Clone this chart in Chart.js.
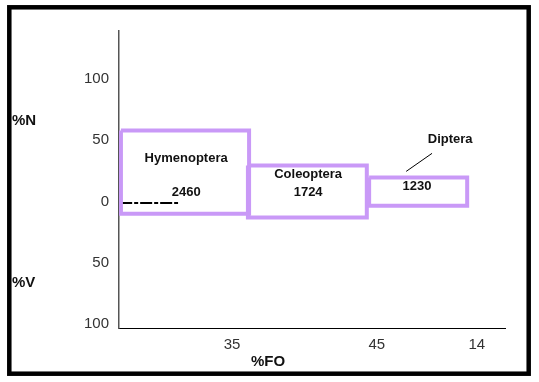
<!DOCTYPE html>
<html>
<head>
<meta charset="utf-8">
<script src="https://cdn.jsdelivr.net/npm/chart.js@4.4.1/dist/chart.umd.min.js"></script>
<style>
  html, body { margin: 0; padding: 0; background: #fff; }
  canvas { display: block; }
</style>
</head>
<body>
<canvas id="chart" width="539" height="382"></canvas>
<script>
// Prey categories and their boxes (x span on the %FO axis, %N up, %V down)
var categories = ['Hymenoptera', 'Coleoptera', 'Diptera'];
var boxCounts = ['2460', '1724', '1230'];
var foStart = [0.5, 33.4, 64.8];
var foEnd = [33.7, 64.2, 90.2];
var pctN = [58, 29.5, 19.7];
var pctV = [10, 13, 3.3];

// Tick labels
var foTickPos = [29.3, 66.8, 92.7];
var foTickLabels = ['35', '45', '14'];
var yTickValues = [-100, -50, 0, 50, 100];

// Text positions inside the plot (data units)
var nameLabelPos = [[17.4, 35.2], [49, 22.1], [85.8, 50.8]];
var countLabelPos = [[17.4, 7.4], [49, 7.4], [77.2, 12.3]];
var dipteraLeader = [{x: 74.4, y: 24.6}, {x: 81.1, y: 39.3}];
var hymenDash = [{x: 0.3, y: -1.2}, {x: 15.3, y: -1.2}];

var purple = '#c999f7';

var datasets = [];
categories.forEach(function (name, i) {
  datasets.push({
    label: name,
    data: [
      {x: foStart[i], y: pctN[i]},
      {x: foEnd[i], y: pctN[i]},
      {x: foEnd[i], y: -pctV[i]},
      {x: foStart[i], y: -pctV[i]},
      {x: foStart[i], y: pctN[i]}
    ],
    borderColor: purple,
    borderWidth: 4,
    pointRadius: 0,
    fill: false,
    tension: 0,
    borderJoinStyle: 'miter'
  });
});
datasets.push({
  label: 'dash',
  data: hymenDash,
  borderColor: '#000',
  borderWidth: 2,
  borderDash: [12, 2, 4, 2],
  pointRadius: 0
});
datasets.push({
  label: 'leader',
  data: dipteraLeader,
  borderColor: '#000',
  borderWidth: 1,
  pointRadius: 0
});

var textPlugin = {
  id: 'textPlugin',
  beforeDraw: function (chart) {
    var ctx = chart.ctx;
    ctx.save();
    ctx.fillStyle = '#fff';
    ctx.fillRect(0, 0, chart.width, chart.height);
    ctx.strokeStyle = '#000';
    ctx.lineWidth = 4.5;
    ctx.strokeRect(9.3, 7.3, 519.4, 366.4);
    ctx.restore();
  },
  afterDatasetsDraw: function (chart) {
    var ctx = chart.ctx;
    var xs = chart.scales.x, ys = chart.scales.y;
    ctx.save();
    ctx.fillStyle = '#111';
    ctx.textAlign = 'center';
    ctx.textBaseline = 'middle';
    ctx.font = 'bold 13px "Liberation Sans", Arial, sans-serif';
    categories.forEach(function (name, i) {
      ctx.fillText(name, xs.getPixelForValue(nameLabelPos[i][0]), ys.getPixelForValue(nameLabelPos[i][1]));
      ctx.fillText(boxCounts[i], xs.getPixelForValue(countLabelPos[i][0]), ys.getPixelForValue(countLabelPos[i][1]));
    });
    ctx.font = 'bold 15px "Liberation Sans", Arial, sans-serif';
    ctx.textAlign = 'left';
    ctx.fillText('%N', 12, ys.getPixelForValue(66));
    ctx.fillText('%V', 12, ys.getPixelForValue(-66));
    ctx.textAlign = 'center';
    ctx.fillText('%FO', xs.getPixelForValue(38.6), chart.chartArea.bottom + 34);
    ctx.restore();
  }
};

new Chart(document.getElementById('chart'), {
  type: 'line',
  data: {datasets: datasets},
  plugins: [textPlugin],
  options: {
    responsive: false,
    animation: false,
    layout: {padding: {left: 12, top: 31, right: 34, bottom: 0}},
    plugins: {legend: {display: false}, tooltip: {enabled: false}},
    scales: {
      x: {
        type: 'linear',
        min: 0,
        max: 100,
        afterFit: function (scale) { scale.height = 54; },
        afterBuildTicks: function (scale) {
          scale.ticks = foTickPos.map(function (v) { return {value: v}; });
        },
        grid: {display: false, drawTicks: false},
        border: {display: true, color: '#000', width: 1},
        ticks: {
          autoSkip: false,
          maxRotation: 0,
          padding: 8,
          color: '#333',
          font: {family: '"Liberation Sans", Arial, sans-serif', size: 15},
          callback: function (v) {
            var i = foTickPos.indexOf(v);
            return i >= 0 ? foTickLabels[i] : '';
          }
        }
      },
      y: {
        type: 'linear',
        min: -103,
        max: 139,
        afterFit: function (scale) { scale.width = 107; },
        afterBuildTicks: function (scale) {
          scale.ticks = yTickValues.map(function (v) { return {value: v}; });
        },
        grid: {display: false, drawTicks: false},
        border: {display: true, color: '#555', width: 1.5},
        ticks: {
          autoSkip: false,
          padding: 10,
          color: '#333',
          font: {family: '"Liberation Sans", Arial, sans-serif', size: 15},
          callback: function (v) { return String(Math.abs(v)); }
        }
      }
    }
  }
});
</script>
</body>
</html>
